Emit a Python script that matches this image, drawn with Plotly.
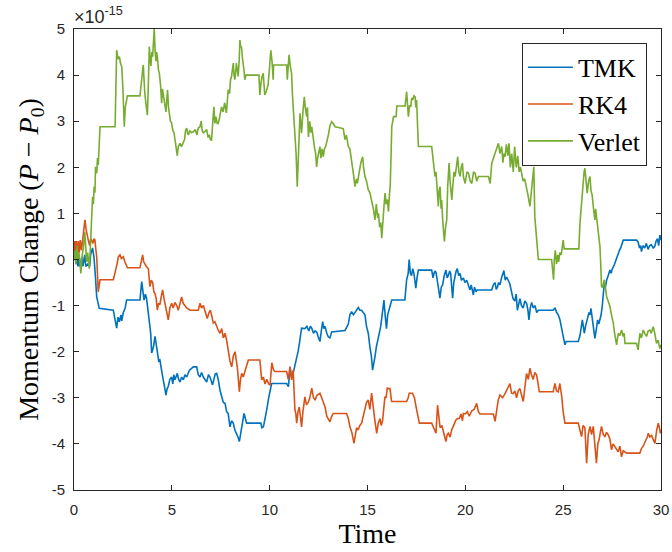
import plotly.graph_objects as go

# Momentum drift (units of 1e-15) against time for three integrators
tmk = [
    (0, 0), (0.05, 0.1), (0.1, -0.1), (0.15, 0.05), (0.2, -0.15), (0.25, 0.0), (0.3, -0.15), (0.4, 0.05),
    (0.45, -0.15), (0.5, -0.05), (0.55, 0.1), (0.6, -0.15), (0.7, -0.1), (0.8, -0.15), (0.85, 0.1), (0.95, 0.25),
    (1.02, 0.05), (1.1, -0.4), (1.16, -0.81), (1.29, -1.06), (2.01, -1.1), (2.1, -1.31), (2.18, -1.49), (2.25, -1.25),
    (2.32, -1.35), (2.4, -1.2), (2.44, -1.33), (2.52, -1.15), (2.61, -1.06), (2.69, -0.88), (3.37, -0.88), (3.46, -0.48),
    (3.52, -0.7), (3.58, -0.88), (3.65, -0.75), (3.71, -0.85), (3.78, -1.1), (3.85, -1.3), (3.92, -1.6), (3.97, -2.03),
    (4.06, -1.9), (4.14, -1.67), (4.2, -1.85), (4.26, -1.95), (4.33, -2.2), (4.39, -2.18), (4.46, -2.4), (4.53, -2.54),
    (4.6, -2.7), (4.7, -2.94), (4.76, -2.8), (4.82, -2.75), (4.9, -2.6), (4.99, -2.55), (5.05, -2.7), (5.1, -2.5),
    (5.16, -2.61), (5.22, -2.55), (5.28, -2.47), (5.35, -2.6), (5.42, -2.66), (5.5, -2.55), (5.59, -2.61), (5.67, -2.5),
    (5.76, -2.55), (5.9, -2.4), (6.1, -2.33), (6.27, -2.33), (6.35, -2.5), (6.44, -2.55), (6.52, -2.45), (6.61, -2.55),
    (6.7, -2.6), (6.78, -2.66), (6.87, -2.5), (6.95, -2.55), (7.08, -2.72), (7.15, -2.6), (7.22, -2.48), (7.29, -2.47),
    (7.37, -2.6), (7.46, -2.83), (7.55, -2.95), (7.63, -3.1), (7.72, -3.12), (7.8, -3.3), (7.88, -3.34), (7.97, -3.63),
    (8.05, -3.5), (8.14, -3.55), (8.22, -3.7), (8.31, -3.77), (8.38, -3.85), (8.45, -3.95), (8.51, -3.8), (8.57, -3.72),
    (8.63, -3.5), (8.69, -3.34), (8.76, -3.45), (8.82, -3.55), (9.55, -3.55), (9.6, -3.65), (9.68, -3.63), (9.75, -3.5),
    (9.85, -3.26), (9.95, -3.0), (10.1, -2.69), (10.87, -2.69), (10.96, -2.76), (11.04, -2.33), (11.12, -2.55),
    (11.2, -2.47), (11.3, -2.3), (11.38, -2.11), (11.45, -2.0), (11.52, -1.82), (11.58, -1.65), (11.63, -1.49),
    (11.8, -1.5), (11.9, -1.45), (12.0, -1.55), (12.08, -1.45), (12.15, -1.49), (12.24, -1.6), (12.32, -1.55),
    (12.41, -1.58), (12.5, -1.7), (12.57, -1.78), (12.64, -1.55), (12.71, -1.35), (12.77, -1.5), (12.83, -1.45),
    (12.92, -1.6), (13.0, -1.68), (13.08, -1.7), (13.17, -1.57), (13.85, -1.54), (13.95, -1.45), (14.02, -1.4),
    (14.1, -1.2), (14.19, -1.13), (14.28, -1.2), (14.36, -1.15), (14.45, -1.1), (14.53, -1.04), (14.61, -1.1),
    (14.7, -1.1), (14.78, -1.15), (14.87, -1.2), (14.95, -1.45), (15.04, -1.6), (15.12, -1.89), (15.2, -2.1),
    (15.26, -2.4), (15.32, -2.2), (15.38, -2.11), (15.45, -1.9), (15.55, -1.7), (15.62, -1.55), (15.67, -1.46),
    (15.75, -1.2), (15.84, -0.88), (15.9, -1.2), (15.97, -1.5), (16.03, -1.2), (16.1, -1.1), (16.17, -0.95),
    (16.24, -0.88), (16.91, -0.88), (17.0, -0.44), (17.08, -0.3), (17.13, 0.0), (17.19, -0.3), (17.25, -0.35),
    (17.31, -0.2), (17.37, -0.3), (17.42, -0.45), (17.47, -0.62), (17.53, -0.4), (17.6, -0.23), (18.28, -0.23),
    (18.35, -0.4), (18.4, -0.3), (18.45, -0.25), (18.5, -0.28), (18.56, -0.5), (18.62, -0.6), (18.7, -0.84),
    (18.77, -0.6), (18.84, -0.55), (18.92, -0.35), (19.01, -0.23), (19.07, -0.4), (19.13, -0.35), (19.2, -0.25),
    (19.25, -0.3), (19.3, -0.55), (19.35, -0.84), (19.41, -0.5), (19.47, -0.33), (19.53, -0.25), (19.59, -0.2),
    (19.66, -0.35), (19.73, -0.3), (19.8, -0.45), (19.9, -0.4), (19.98, -0.5), (20.07, -0.45), (20.15, -0.55),
    (20.24, -0.66), (20.3, -0.55), (20.41, -0.77), (20.47, -0.6), (20.55, -0.7), (20.6, -0.66), (21.35, -0.66),
    (21.43, -0.55), (21.52, -0.5), (21.58, -0.65), (21.64, -0.6), (21.7, -0.5), (21.77, -0.55), (21.85, -0.4),
    (21.97, -0.24), (22.04, -0.45), (22.11, -0.38), (22.19, -0.45), (22.27, -0.52), (22.36, -0.7), (22.44, -0.85),
    (22.53, -0.9), (22.6, -0.75), (22.66, -1.1), (22.72, -0.95), (22.79, -0.85), (22.87, -1.0), (22.96, -1.05),
    (23.04, -0.9), (23.13, -0.95), (23.2, -1.1), (23.25, -1.31), (23.32, -1.05), (23.39, -0.93), (23.47, -1.05),
    (23.56, -1.0), (23.65, -1.15), (23.73, -1.1), (24.49, -1.1), (24.58, -1.05), (24.67, -1.15), (24.75, -1.2),
    (24.83, -1.3), (24.9, -1.45), (24.95, -1.55), (25.02, -1.7), (25.09, -1.85), (25.15, -1.78), (25.77, -1.78),
    (25.86, -1.65), (25.92, -1.5), (25.98, -1.31), (26.03, -1.45), (26.08, -1.6), (26.14, -1.45), (26.2, -1.37),
    (26.26, -1.25), (26.32, -1.15), (26.37, -1.2), (26.42, -1.06), (26.48, -1.3), (26.54, -1.45), (26.58, -1.6),
    (26.62, -1.71), (26.7, -1.5), (26.76, -1.31), (26.82, -1.4), (26.88, -1.31), (26.94, -1.2), (27.0, -1.0),
    (27.05, -0.8), (27.1, -0.52), (27.16, -0.6), (27.22, -0.45), (27.3, -0.35), (27.39, -0.23), (27.45, -0.3),
    (27.51, -0.2), (27.58, -0.15), (27.64, -0.08), (27.72, 0.05), (27.81, 0.13), (27.88, 0.2), (27.94, 0.25),
    (28.0, 0.35), (28.07, 0.42), (28.75, 0.42), (28.83, 0.38), (28.9, 0.25), (28.96, 0.3), (29.0, 0.17),
    (29.08, 0.3), (29.17, 0.25), (29.25, 0.35), (29.34, 0.22), (29.42, 0.3), (29.51, 0.32), (29.6, 0.25),
    (29.68, 0.28), (29.75, 0.4), (29.82, 0.45), (29.88, 0.3), (29.94, 0.53), (30.0, 0.42),
]

rk4 = [
    (0, 0), (0.04, 0.4), (0.08, 0.1), (0.12, 0.4), (0.17, 0.05), (0.22, 0.4), (0.27, 0.15), (0.32, 0.42),
    (0.38, 0.2), (0.45, 0.5), (0.5, 0.7), (0.56, 0.86), (0.62, 0.65), (0.68, 0.5), (0.73, 0.42), (0.8, 0.3),
    (0.85, 0.45), (0.9, 0.42), (0.97, 0.35), (1.02, 0.45), (1.07, 0.42), (1.12, 0.2), (1.16, 0.06), (1.24, -0.7),
    (1.33, -0.44), (2.01, -0.44), (2.1, -0.3), (2.2, -0.1), (2.27, 0.06), (2.35, 0.1), (2.42, 0.02), (2.52, 0.06),
    (2.6, -0.05), (2.73, -0.18), (3.37, -0.18), (3.45, -0.05), (3.51, 0.1), (3.56, -0.05), (3.62, -0.1),
    (3.7, -0.15), (3.8, -0.2), (3.88, -0.59), (3.95, -0.45), (4.02, -0.5), (4.08, -0.7), (4.14, -0.74),
    (4.2, -0.85), (4.26, -1.1), (4.32, -0.95), (4.39, -0.98), (4.46, -0.8), (4.53, -0.66), (4.6, -0.85),
    (4.65, -0.95), (4.73, -1.1), (4.82, -1.31), (4.9, -1.05), (4.99, -0.95), (5.07, -1.05), (5.16, -0.93),
    (5.25, -1.0), (5.33, -1.1), (5.42, -0.95), (5.5, -0.81), (5.58, -0.95), (5.67, -1.0), (5.76, -1.05),
    (5.93, -1.1), (6.35, -1.1), (6.44, -0.95), (6.52, -1.05), (6.61, -1.0), (6.7, -1.15), (6.81, -1.28),
    (6.9, -1.15), (6.97, -1.1), (7.03, -1.2), (7.12, -1.38), (7.2, -1.35), (7.28, -1.45), (7.37, -1.53),
    (7.46, -1.6), (7.55, -1.5), (7.63, -1.7), (7.72, -1.6), (7.8, -1.75), (7.88, -2.0), (7.97, -2.2),
    (8.06, -2.33), (8.14, -2.1), (8.23, -2.0), (8.3, -2.2), (8.35, -2.35), (8.4, -2.6), (8.45, -2.87),
    (8.51, -2.6), (8.57, -2.47), (8.65, -2.55), (8.74, -2.4), (8.82, -2.3), (8.91, -2.18), (9.5, -2.18),
    (9.59, -2.61), (9.68, -2.55), (9.76, -2.7), (9.85, -2.6), (9.95, -2.7), (10.02, -2.72), (10.11, -2.24),
    (10.2, -2.4), (10.27, -2.43), (10.87, -2.43), (10.95, -2.6), (11.04, -2.33), (11.12, -2.61), (11.2, -2.4),
    (11.25, -2.9), (11.29, -3.26), (11.34, -3.35), (11.38, -3.55), (11.45, -3.3), (11.51, -3.2), (11.57, -3.4),
    (11.63, -3.63), (11.7, -3.3), (11.8, -2.98), (11.88, -3.15), (11.97, -3.1), (12.05, -3.0), (12.15, -2.79),
    (12.24, -3.0), (12.32, -3.05), (12.41, -2.95), (12.5, -2.92), (12.57, -2.9), (12.66, -3.0), (12.75, -3.1),
    (12.83, -3.2), (12.92, -3.4), (13.0, -3.45), (13.08, -3.52), (13.17, -3.4), (13.25, -3.34), (13.93, -3.34),
    (14.02, -3.45), (14.1, -3.63), (14.2, -3.75), (14.31, -3.99), (14.38, -3.8), (14.44, -3.65), (14.52, -3.7),
    (14.61, -3.6), (14.7, -3.55), (14.8, -3.35), (14.87, -3.26), (14.95, -3.1), (15.04, -3.05), (15.12, -3.25),
    (15.21, -2.9), (15.3, -3.26), (15.38, -3.5), (15.47, -3.77), (15.55, -3.55), (15.64, -3.45), (15.7, -3.6),
    (15.77, -3.5), (15.84, -3.2), (15.89, -2.98), (15.95, -3.0), (16.01, -2.79), (16.08, -2.8), (16.15, -2.8),
    (16.23, -3.08), (17.0, -3.08), (17.08, -3.0), (17.13, -2.9), (17.3, -2.9), (17.4, -3.0), (17.48, -3.19),
    (17.56, -3.4), (17.65, -3.55), (18.28, -3.55), (18.37, -3.65), (18.45, -3.7), (18.5, -3.77), (18.58, -3.16),
    (18.65, -3.5), (18.71, -3.65), (18.8, -3.6), (18.88, -3.77), (18.95, -3.85), (19.01, -3.95), (19.07, -3.8),
    (19.13, -3.77), (19.22, -3.85), (19.3, -3.7), (19.4, -3.6), (19.52, -3.48), (19.6, -3.45), (19.69, -3.45),
    (19.78, -3.35), (19.85, -3.5), (19.9, -3.34), (20.0, -3.35), (20.1, -3.3), (20.2, -3.4), (20.33, -3.28),
    (20.45, -3.25), (20.58, -3.12), (20.67, -3.3), (20.75, -3.35), (21.43, -3.35), (21.52, -3.51), (21.6, -3.26),
    (21.68, -3.05), (21.77, -2.94), (21.9, -3.0), (22.03, -2.91), (22.15, -2.8), (22.28, -2.69), (22.36, -2.9),
    (22.45, -2.91), (22.53, -2.85), (22.62, -3.0), (22.7, -2.85), (22.79, -2.8), (22.88, -2.95), (22.96, -3.08),
    (23.05, -2.75), (23.13, -2.47), (23.22, -2.6), (23.3, -2.36), (23.38, -2.5), (23.47, -2.6), (23.55, -2.45),
    (23.64, -2.5), (23.7, -2.65), (23.78, -2.87), (24.49, -2.87), (24.58, -2.69), (24.66, -2.85), (24.75, -2.87),
    (24.83, -2.69), (24.92, -2.95), (25.0, -3.3), (25.09, -3.55), (25.77, -3.55), (25.86, -3.7), (25.94, -3.84),
    (26.02, -3.6), (26.11, -3.65), (26.2, -4.42), (26.28, -3.8), (26.37, -3.62), (26.45, -3.8), (26.54, -3.62),
    (26.62, -4.0), (26.7, -4.42), (26.77, -4.0), (26.84, -3.9), (26.9, -3.75), (26.96, -3.62), (27.05, -3.8),
    (27.13, -3.84), (27.22, -3.75), (27.3, -3.8), (27.39, -3.9), (27.47, -4.13), (27.55, -4.0), (27.64, -4.05),
    (27.72, -4.1), (27.81, -4.17), (27.9, -4.05), (27.98, -4.28), (28.07, -4.15), (28.15, -4.17), (28.25, -4.2),
    (28.92, -4.2), (29.0, -4.1), (29.09, -4.05), (29.2, -3.95), (29.3, -3.85), (29.35, -3.77), (29.43, -3.85),
    (29.52, -3.82), (29.6, -3.9), (29.69, -3.99), (29.78, -3.7), (29.86, -3.55), (29.92, -3.65), (29.97, -3.77),
    (30.0, -3.7),
]

verlet = [
    (0, 0), (0.05, 0.2), (0.1, -0.1), (0.15, 0.3), (0.2, 0.0), (0.25, 0.15), (0.3, -0.05), (0.35, -0.3),
    (0.42, 0.1), (0.48, 0.25), (0.55, 0.6), (0.6, 0.2), (0.65, -0.05), (0.7, 0.15), (0.78, -0.2), (0.82, 0.1),
    (0.86, 0.5), (0.9, 1.0), (0.95, 1.36), (0.99, 1.2), (1.03, 1.58), (1.07, 1.45), (1.1, 2.01), (1.16, 1.87),
    (1.2, 2.2), (1.24, 2.05), (1.28, 2.4), (1.33, 2.88), (2.1, 2.88), (2.18, 4.54), (2.25, 4.35), (2.32, 4.4),
    (2.38, 4.25), (2.44, 4.18), (2.5, 3.7), (2.57, 2.88), (2.62, 3.3), (2.73, 3.55), (3.37, 3.55), (3.42, 3.75),
    (3.46, 3.9), (3.54, 4.22), (3.58, 3.9), (3.62, 3.6), (3.7, 3.3), (3.75, 3.13), (3.8, 3.8), (3.85, 4.62),
    (3.9, 4.3), (3.93, 4.2), (3.98, 4.5), (4.02, 4.4), (4.06, 4.7), (4.1, 5.0), (4.15, 4.5), (4.19, 4.3),
    (4.22, 4.5), (4.26, 4.4), (4.32, 4.1), (4.36, 4.05), (4.42, 3.8), (4.48, 3.39), (4.52, 3.7), (4.56, 3.6),
    (4.62, 3.4), (4.7, 3.2), (4.74, 3.45), (4.78, 3.68), (4.83, 3.3), (4.87, 3.2), (4.93, 3.0), (4.99, 2.96),
    (5.05, 2.8), (5.11, 2.75), (5.16, 2.6), (5.21, 2.52), (5.28, 2.25), (5.33, 2.45), (5.38, 2.5), (5.42, 2.52),
    (5.5, 2.45), (5.58, 2.55), (5.65, 2.6), (5.7, 2.8), (5.76, 2.85), (5.8, 2.75), (5.85, 2.7), (5.92, 2.8),
    (6.0, 2.75), (6.1, 2.77), (6.2, 2.82), (6.28, 2.7), (6.35, 2.85), (6.44, 2.88), (6.5, 3.0), (6.55, 2.8),
    (6.61, 2.75), (6.7, 2.78), (6.78, 2.82), (6.85, 2.65), (6.92, 2.7), (6.97, 2.6), (7.03, 2.59), (7.08, 2.9),
    (7.15, 3.31), (7.2, 2.95), (7.25, 3.1), (7.32, 2.95), (7.37, 2.95), (7.45, 3.1), (7.54, 3.31), (7.62, 3.2),
    (7.7, 3.4), (7.79, 3.18), (7.83, 3.5), (7.88, 3.68), (7.95, 3.6), (8.0, 3.9), (8.05, 3.97), (8.1, 4.1),
    (8.14, 4.26), (8.18, 4.0), (8.22, 3.9), (8.27, 4.1), (8.3, 4.26), (8.35, 4.1), (8.39, 3.97), (8.44, 4.3),
    (8.48, 4.76), (8.52, 4.6), (8.56, 4.62), (8.6, 4.4), (8.65, 4.26), (8.69, 4.1), (8.73, 3.9), (8.78, 4.0),
    (9.45, 4.0), (9.5, 3.57), (9.55, 3.8), (9.6, 3.95), (9.67, 4.04), (9.71, 3.8), (9.75, 3.57), (9.83, 3.65),
    (9.92, 3.79), (9.98, 4.1), (10.06, 4.54), (10.12, 4.3), (10.18, 3.9), (10.2, 4.22), (10.87, 4.22),
    (10.9, 3.9), (10.95, 4.2), (10.99, 4.44), (11.05, 4.2), (11.12, 4.04), (11.16, 3.6), (11.2, 3.31),
    (11.25, 3.0), (11.3, 2.81), (11.35, 2.3), (11.41, 1.58), (11.45, 2.0), (11.5, 2.7), (11.55, 3.17),
    (11.6, 2.9), (11.63, 2.74), (11.7, 3.2), (11.77, 3.53), (11.82, 3.3), (11.89, 3.1), (11.93, 3.3),
    (11.98, 2.66), (12.05, 3.0), (12.1, 2.75), (12.15, 2.88), (12.22, 2.6), (12.3, 2.4), (12.35, 2.3),
    (12.4, 2.01), (12.45, 2.2), (12.5, 2.35), (12.57, 2.45), (12.62, 2.2), (12.68, 2.4), (12.74, 2.23),
    (12.8, 2.4), (12.86, 2.45), (12.91, 2.52), (13.0, 2.7), (13.08, 2.9), (13.17, 2.99), (13.25, 2.95),
    (13.34, 2.88), (13.76, 2.84), (13.85, 2.6), (13.92, 2.7), (14.02, 2.45), (14.1, 2.4), (14.19, 2.16),
    (14.25, 2.0), (14.3, 1.8), (14.36, 1.58), (14.43, 1.75), (14.48, 1.65), (14.53, 1.8), (14.6, 2.0),
    (14.66, 2.1), (14.7, 2.16), (14.75, 2.23), (14.8, 2.0), (14.87, 1.8), (14.95, 1.7), (15.04, 1.51),
    (15.12, 1.45), (15.21, 1.29), (15.3, 1.1), (15.38, 0.86), (15.45, 1.2), (15.52, 0.9), (15.56, 1.0),
    (15.62, 0.7), (15.68, 0.8), (15.73, 0.46), (15.8, 1.0), (15.85, 1.2), (15.9, 1.44), (15.95, 1.2),
    (16.02, 1.3), (16.07, 1.04), (16.12, 1.4), (16.16, 1.58), (16.2, 2.2), (16.24, 2.88), (16.33, 3.1),
    (16.46, 3.1), (16.5, 3.33), (16.92, 3.33), (17.0, 3.64), (17.05, 3.3), (17.09, 3.1), (17.15, 3.35),
    (17.21, 3.31), (17.26, 3.5), (17.31, 3.46), (17.37, 3.55), (17.43, 3.53), (17.47, 3.3), (17.51, 3.46),
    (17.55, 3.0), (17.6, 2.45), (18.28, 2.45), (18.37, 2.01), (18.45, 1.8), (18.5, 1.9), (18.56, 1.4),
    (18.62, 1.15), (18.66, 1.5), (18.71, 1.58), (18.76, 1.1), (18.79, 1.29), (18.85, 0.8), (18.93, 0.39),
    (18.99, 0.7), (19.05, 0.86), (19.1, 1.6), (19.17, 2.09), (19.22, 1.7), (19.26, 1.5), (19.31, 1.29),
    (19.36, 1.6), (19.42, 1.9), (19.48, 1.8), (19.55, 2.1), (19.61, 2.23), (19.67, 1.9), (19.73, 1.8),
    (19.79, 2.0), (19.85, 2.09), (19.9, 1.8), (19.99, 1.65), (20.08, 1.9), (20.16, 1.87), (20.25, 1.7),
    (20.33, 1.65), (20.42, 1.9), (20.5, 1.87), (20.58, 1.7), (20.67, 1.8), (21.18, 1.8), (21.27, 1.65),
    (21.35, 2.09), (21.43, 2.2), (21.52, 2.3), (21.6, 2.4), (21.69, 2.52), (21.77, 2.3), (21.86, 2.45),
    (21.92, 2.1), (21.97, 2.3), (22.03, 2.23), (22.1, 2.5), (22.17, 2.25), (22.23, 2.52), (22.3, 2.0),
    (22.37, 2.3), (22.45, 1.9), (22.52, 2.45), (22.6, 2.0), (22.68, 2.25), (22.75, 1.9), (22.81, 2.0),
    (22.88, 1.87), (22.95, 1.7), (23.03, 1.75), (23.13, 1.58), (23.2, 1.4), (23.3, 1.15), (23.38, 1.5),
    (23.45, 1.7), (23.5, 2.01), (23.55, 0.93), (23.62, 0.6), (23.68, 0.3), (23.73, 0.0), (24.41, 0.0),
    (24.46, -0.2), (24.51, -0.44), (24.55, 0.0), (24.6, 0.2), (24.66, -0.1), (24.72, 0.1), (24.77, -0.05),
    (24.83, 0.15), (24.9, 0.1), (24.95, 0.3), (25.0, 0.42), (25.05, 0.23), (25.8, 0.23), (25.86, 0.8),
    (25.94, 1.29), (26.02, 1.6), (26.07, 1.9), (26.11, 1.98), (26.17, 1.7), (26.23, 1.44), (26.3, 1.7),
    (26.37, 1.8), (26.42, 1.5), (26.48, 1.4), (26.54, 1.15), (26.62, 0.86), (26.66, 1.1), (26.7, 0.95),
    (26.76, 0.6), (26.84, 0.42), (26.88, 0.28), (26.92, -0.1), (26.96, -0.59), (27.02, -0.6), (27.1, -0.44),
    (27.16, -0.6), (27.22, -0.81), (27.3, -0.9), (27.39, -1.02), (27.47, -1.2), (27.56, -1.38), (27.63, -1.6),
    (27.68, -1.75), (27.73, -1.85), (27.78, -1.7), (27.82, -1.6), (27.9, -1.65), (27.99, -1.53), (28.07, -1.67),
    (28.12, -1.6), (28.16, -1.82), (28.75, -1.82), (28.83, -1.96), (28.88, -1.75), (28.92, -1.6), (29.0, -1.7),
    (29.09, -1.53), (29.17, -1.6), (29.26, -1.67), (29.34, -1.55), (29.43, -1.53), (29.5, -1.6), (29.6, -1.46),
    (29.68, -1.6), (29.77, -1.82), (29.85, -1.75), (29.94, -1.93), (30.0, -1.85),
]

tmk_time, tmk_change = zip(*tmk)
rk4_time, rk4_change = zip(*rk4)
verlet_time, verlet_change = zip(*verlet)

series_names = ["TMK", "RK4", "Verlet"]
series_colors = ["#0072BD", "#D95319", "#77AC30"]

x_ticks = [0, 5, 10, 15, 20, 25, 30]
y_ticks = [-5, -4, -3, -2, -1, 0, 1, 2, 3, 4, 5]

AXIS_COLOR = "#262626"
SANS = "Liberation Sans, Arial, sans-serif"
SERIF = "Liberation Serif, Times New Roman, serif"
TICK_FONT = dict(family=SANS, size=15, color=AXIS_COLOR)

fig = go.Figure()
for name, color, tx, vy in zip(
    series_names,
    series_colors,
    [tmk_time, rk4_time, verlet_time],
    [tmk_change, rk4_change, verlet_change],
):
    fig.add_trace(go.Scatter(x=list(tx), y=list(vy), mode="lines", name=name,
                             line=dict(color=color, width=1.6)))

axis_common = dict(
    showline=True, linecolor=AXIS_COLOR, linewidth=1, mirror="ticks",
    ticks="inside", ticklen=5, tickcolor=AXIS_COLOR, tickwidth=1,
    showgrid=False, zeroline=False, tickfont=TICK_FONT, automargin=False,
)

fig.update_xaxes(
    range=[0, 30], tickvals=x_ticks, ticktext=[str(v) for v in x_ticks],
    ticklabelstandoff=6,
    title=dict(text="Time", font=dict(family=SERIF, size=28, color="black"), standoff=0),
    **axis_common,
)
fig.update_yaxes(
    range=[-5, 5], tickvals=y_ticks, ticktext=[str(v) for v in y_ticks],
    ticklabelstandoff=5,
    title=dict(text="Momentum Change (<i>P</i> − <i>P</i><sub>0</sub>)",
               font=dict(family=SERIF, size=28, color="black"), standoff=4),
    **axis_common,
)

fig.add_annotation(
    text="×10<sup>-15</sup>", xref="paper", yref="paper", x=0, y=1,
    xanchor="left", yanchor="bottom", showarrow=False, yshift=0, xshift=-2,
    font=dict(family=SANS, size=18, color=AXIS_COLOR),
)

fig.update_layout(
    width=672, height=552,
    margin=dict(l=74, r=11, t=29, b=62),
    paper_bgcolor="white", plot_bgcolor="white",
    legend=dict(
        x=0.976, y=0.97, xanchor="right", yanchor="top",
        bgcolor="white", bordercolor=AXIS_COLOR, borderwidth=1,
        font=dict(family=SERIF, size=26, color="black"),
        tracegroupgap=0, itemwidth=45,
    ),
)

fig.write_html("out.html")
